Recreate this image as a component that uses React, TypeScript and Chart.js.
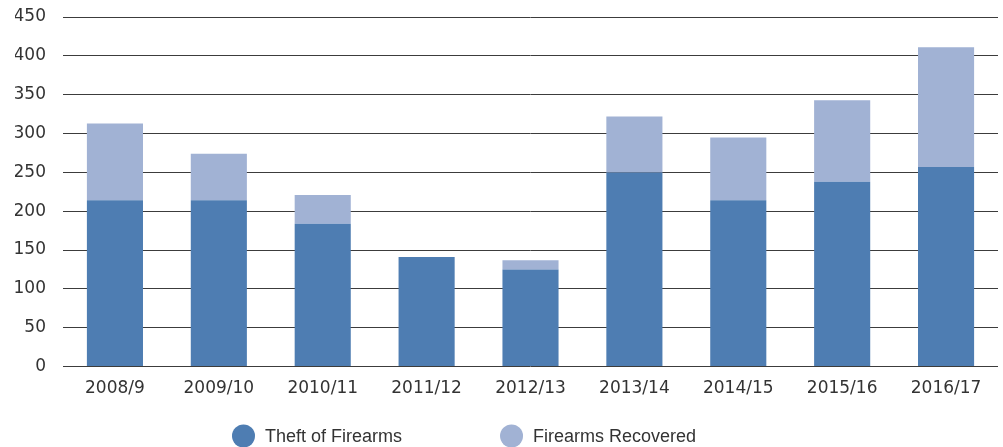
import React, { useEffect, useRef } from "react";
import { Chart, registerables } from "chart.js";

Chart.register(...registerables);

const categories = ["2008/9", "2009/10", "2010/11", "2011/12", "2012/13", "2013/14", "2014/15", "2015/16", "2016/17"];
const theftOfFirearms = [214, 214, 184, 141, 125, 250, 214, 238, 257];
const firearmsRecovered = [99, 60, 37, 0, 12, 72, 81, 105, 154];
const seriesNames = ["Theft of Firearms", "Firearms Recovered"];
const seriesColors = ["#4e7db2", "#a1b2d4"];

const LEGEND_FONT = "'Liberation Sans', Arial, Helvetica, sans-serif";
const TICK_FONT = "'DejaVu Sans', 'Liberation Sans', sans-serif";
const TEXT = "#333333";

const legendPlugin = {
  id: "customLegend",
  afterDraw(chart: any) {
    const ctx = chart.ctx;
    const opts = chart.options.plugins.customLegend || {};
    let x = opts.startX ?? 232;
    const y = opts.y ?? 436;
    const r = 11.5;
    ctx.save();
    ctx.font = `18px ${LEGEND_FONT}`;
    ctx.textBaseline = "middle";
    ctx.textAlign = "left";
    chart.data.datasets.forEach((ds: any) => {
      ctx.fillStyle = ds.backgroundColor;
      ctx.beginPath();
      ctx.arc(x + r, y, r, 0, Math.PI * 2);
      ctx.fill();
      ctx.fillStyle = TEXT;
      const tx = x + 2 * r + 10;
      ctx.fillText(ds.label, tx, y + 1);
      x = tx + ctx.measureText(ds.label).width + 98;
    });
    ctx.restore();
  },
};

export default function App() {
  const ref = useRef<HTMLCanvasElement>(null);
  useEffect(() => {
    document.body.style.margin = "0";
    const chart = new Chart(ref.current!, {
      type: "bar",
      data: {
        labels: categories,
        datasets: [
          { label: seriesNames[0], data: theftOfFirearms, backgroundColor: seriesColors[0] },
          { label: seriesNames[1], data: firearmsRecovered, backgroundColor: seriesColors[1] },
        ],
      },
      plugins: [legendPlugin],
      options: {
        animation: false,
        responsive: false,
        maintainAspectRatio: false,
        layout: { padding: { left: 15, right: 5, top: 17, bottom: 36 } },
        datasets: { bar: { barPercentage: 0.54, categoryPercentage: 1 } },
        plugins: {
          legend: { display: false },
          tooltip: { enabled: false },
          customLegend: { startX: 232, y: 436 },
        } as any,
        scales: {
          x: {
            stacked: true,
            grid: { display: false, drawTicks: false },
            border: { display: false },
            ticks: { color: TEXT, font: { family: TICK_FONT, size: 17 }, padding: 12 },
          },
          y: {
            stacked: true,
            min: 0,
            max: 450,
            afterFit: (scale: any) => {
              scale.width = 48;
              scale.paddingTop = 0;
              scale.paddingBottom = 0;
            },
            grid: { color: "#3c3c3c", lineWidth: 1, drawTicks: false },
            border: { display: false },
            ticks: { stepSize: 50, color: TEXT, font: { family: TICK_FONT, size: 17 }, padding: 17 },
          },
        },
      },
    });
    return () => chart.destroy();
  }, []);
  return (
    <div style={{ width: 1003, height: 447 }}>
      <canvas ref={ref} width={1003} height={447} />
    </div>
  );
}
